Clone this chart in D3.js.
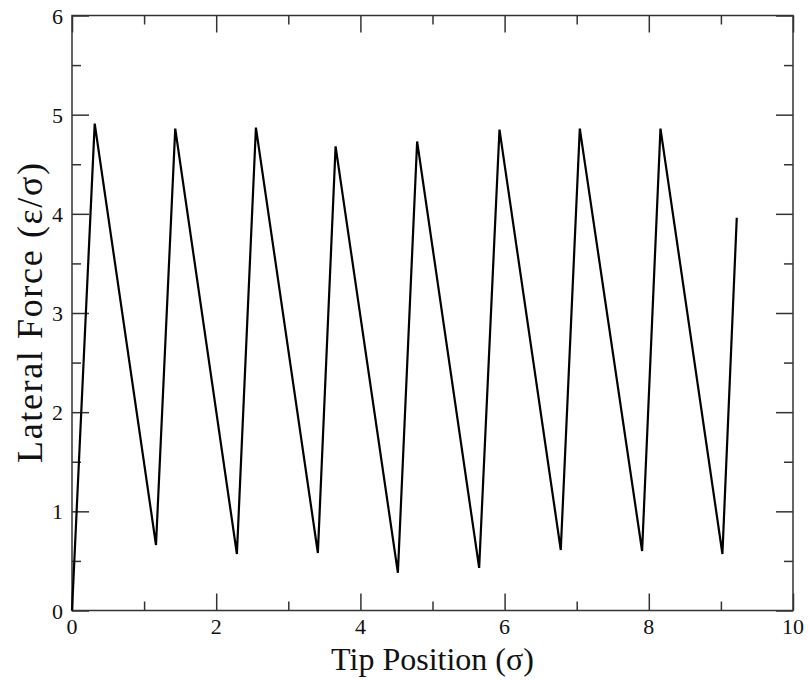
<!DOCTYPE html>
<html>
<head>
<meta charset="utf-8">
<script src="https://cdn.jsdelivr.net/npm/d3@7"></script>
<style>
  body { margin: 0; background: #fff; }
  svg text { font-family: "Liberation Serif", "Times New Roman", serif; fill: #111; }
</style>
</head>
<body>
<svg id="chart"></svg>
<script>
// tip position (sigma) and lateral force (eps/sigma)
const tipPos = [0, 0.315, 1.165, 1.432, 2.287, 2.551, 3.41, 3.656, 4.52, 4.787, 5.647, 5.929, 6.779, 7.043, 7.907, 8.162, 9.021, 9.22];
const force  = [0, 4.91, 0.66, 4.86, 0.57, 4.87, 0.58, 4.68, 0.38, 4.73, 0.43, 4.85, 0.61, 4.86, 0.60, 4.86, 0.57, 3.96];

const xTicks = [0, 2, 4, 6, 8, 10];
const yTicks = [0, 1, 2, 3, 4, 5, 6];
const xMinor = [1, 3, 5, 7, 9];
const yMinor = [0.5, 1.5, 2.5, 3.5, 4.5, 5.5];

const width = 809, height = 680;
const margin = { top: 15.5, right: 16, bottom: 69.5, left: 72 };

const svg = d3.select("#chart")
    .attr("width", width)
    .attr("height", height);

const x = d3.scaleLinear().domain([0, 10]).range([margin.left, width - margin.right]);
const y = d3.scaleLinear().domain([0, 6]).range([height - margin.bottom, margin.top]);

const majorLen = 17, minorLen = 9;
const tickColor = "#333";

/* ---------------------------
   Ticks (inward, on all four sides)
--------------------------- */
function addTicks(g, axis, ticks, len) {
    g.call(axis.tickValues(ticks).tickSize(len).tickFormat(""))
        .call(s => s.select(".domain").remove())
        .call(s => s.selectAll("text").remove())
        .call(s => s.selectAll("line").attr("stroke", tickColor).attr("stroke-width", 1.5));
}

const bottomY = y(0), topY = y(6), leftX = x(0), rightX = x(10);

addTicks(svg.append("g").attr("transform", `translate(0,${bottomY})`), d3.axisTop(x), xTicks, majorLen);
addTicks(svg.append("g").attr("transform", `translate(0,${bottomY})`), d3.axisTop(x), xMinor, minorLen);
addTicks(svg.append("g").attr("transform", `translate(0,${topY})`), d3.axisBottom(x), xTicks, majorLen);
addTicks(svg.append("g").attr("transform", `translate(0,${topY})`), d3.axisBottom(x), xMinor, minorLen);
addTicks(svg.append("g").attr("transform", `translate(${leftX},0)`), d3.axisRight(y), yTicks, majorLen);
addTicks(svg.append("g").attr("transform", `translate(${leftX},0)`), d3.axisRight(y), yMinor, minorLen);
addTicks(svg.append("g").attr("transform", `translate(${rightX},0)`), d3.axisLeft(y), yTicks, majorLen);
addTicks(svg.append("g").attr("transform", `translate(${rightX},0)`), d3.axisLeft(y), yMinor, minorLen);

/* ---------------------------
   Frame
--------------------------- */
svg.append("rect")
    .attr("x", leftX)
    .attr("y", topY)
    .attr("width", rightX - leftX)
    .attr("height", bottomY - topY)
    .attr("fill", "none")
    .attr("stroke", tickColor)
    .attr("stroke-width", 1.5);

/* ---------------------------
   Tick labels
--------------------------- */
svg.append("g").selectAll("text")
    .data(xTicks)
    .enter()
    .append("text")
    .attr("x", d => x(d))
    .attr("y", bottomY + 23)
    .attr("text-anchor", "middle")
    .attr("font-size", "22px")
    .text(d => d);

svg.append("g").selectAll("text")
    .data(yTicks)
    .enter()
    .append("text")
    .attr("x", leftX - 9)
    .attr("y", d => y(d) + 8)
    .attr("text-anchor", "end")
    .attr("font-size", "22px")
    .text(d => d);

/* ---------------------------
   Axis titles
--------------------------- */
svg.append("text")
    .attr("x", (leftX + rightX) / 2)
    .attr("y", 670)
    .attr("text-anchor", "middle")
    .attr("font-size", "32px")
    .text("Tip Position (σ)");

svg.append("text")
    .attr("transform", `translate(42,${(topY + bottomY) / 2}) rotate(-90)`)
    .attr("text-anchor", "middle")
    .attr("font-size", "36px")
    .attr("textLength", 300)
    .attr("lengthAdjust", "spacing")
    .text("Lateral Force (ε/σ)");

/* ---------------------------
   Curve
--------------------------- */
const line = d3.line()
    .x((d, i) => x(tipPos[i]))
    .y(d => y(d));

svg.append("path")
    .datum(force)
    .attr("d", line)
    .attr("fill", "none")
    .attr("stroke", "#000")
    .attr("stroke-width", 2.2)
    .attr("stroke-linejoin", "miter");
</script>
</body>
</html>
